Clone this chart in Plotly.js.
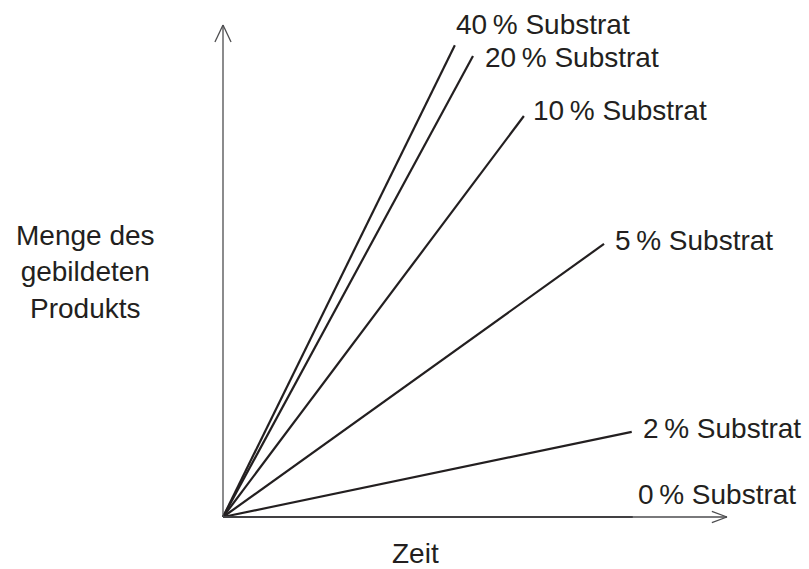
<!DOCTYPE html>
<html>
<head>
<meta charset="utf-8">
<script src="https://cdn.plot.ly/plotly-3.0.1.min.js"></script>
<style>html,body{margin:0;padding:0;background:#fff;}#chart{width:809px;height:569px;}</style>
</head>
<body>
<div id="chart"></div>
<script>
// Data (time and product in arbitrary units)
const substrateLabels = ["40 % Substrat", "20 % Substrat", "10 % Substrat", "5 % Substrat", "2 % Substrat", "0 % Substrat"];
const endTime = [4.60, 4.96, 5.97, 7.56, 8.11, 8.13];
const endProduct = [9.59, 9.37, 8.15, 5.55, 1.73, 0.0];
const startTime = [0, 0, 0, 0, 0, 0];
const startProduct = [0, 0, 0, 0, 0, 0];
const axisMax = 10;

const ink = "#231f20";
const fontFam = "Liberation Sans, Arial, Helvetica, sans-serif";
const fontSize = 28;

// label offsets (px) relative to each line end
const labelShift = [[-1, 21], [10, -2], [7, 6], [9, 3], [9, 3], [3, 23]];

const traces = substrateLabels.map((name, i) => ({
  type: "scatter",
  mode: "lines",
  name: name,
  x: [startTime[i], endTime[i]],
  y: [startProduct[i], endProduct[i]],
  line: {color: ink, width: 2.2},
  hoverinfo: "skip",
  cliponaxis: false
}));

const annotations = substrateLabels.map((name, i) => ({
  x: endTime[i], y: endProduct[i], xref: "x", yref: "y",
  text: name.replace(" %", "\u2009%"),
  showarrow: false,
  xanchor: "left", yanchor: "middle",
  xshift: labelShift[i][0], yshift: labelShift[i][1],
  font: {family: fontFam, size: fontSize, color: ink}
}));

annotations.push({
  x: -2.738, y: 4.98, xref: "x", yref: "y",
  text: "Menge des<br>gebildeten<br>Produkts",
  showarrow: false, xanchor: "center", yanchor: "middle", align: "center",
  font: {family: fontFam, size: fontSize, color: ink}
});
annotations.push({
  x: 3.81, y: -0.732, xref: "x", yref: "y",
  text: "Zeit",
  showarrow: false, xanchor: "center", yanchor: "middle",
  font: {family: fontFam, size: fontSize, color: ink}
});

const axCol = "#4d4d4f";
const shapes = [
  {type: "line", xref: "x", yref: "y", x0: 0, y0: 0, x1: axisMax, y1: 0, line: {color: axCol, width: 1.3}},
  {type: "line", xref: "x", yref: "y", x0: 0, y0: 0, x1: 0, y1: axisMax, line: {color: axCol, width: 1.3}},
  // x arrow head
  {type: "line", xref: "x", yref: "y", x0: axisMax, y0: 0, x1: axisMax - 0.30, y1: 0.115, line: {color: axCol, width: 1.3}},
  {type: "line", xref: "x", yref: "y", x0: axisMax, y0: 0, x1: axisMax - 0.30, y1: -0.115, line: {color: axCol, width: 1.3}},
  // y arrow head
  {type: "line", xref: "x", yref: "y", x0: 0, y0: axisMax, x1: 0.16, y1: axisMax - 0.345, line: {color: axCol, width: 1.3}},
  {type: "line", xref: "x", yref: "y", x0: 0, y0: axisMax, x1: -0.16, y1: axisMax - 0.345, line: {color: axCol, width: 1.3}}
];

const hidden = {showgrid: false, zeroline: false, showticklabels: false, showline: false, ticks: "", fixedrange: true};

const layout = {
  width: 809, height: 569,
  margin: {l: 0, r: 0, t: 0, b: 0},
  paper_bgcolor: "#ffffff", plot_bgcolor: "#ffffff",
  showlegend: false,
  xaxis: Object.assign({range: [-4.4246, 11.627]}, hidden),
  yaxis: Object.assign({range: [-1.0569, 10.508]}, hidden),
  shapes: shapes,
  annotations: annotations
};

Plotly.newPlot("chart", traces, layout, {staticPlot: true, displayModeBar: false});
</script>
</body>
</html>
